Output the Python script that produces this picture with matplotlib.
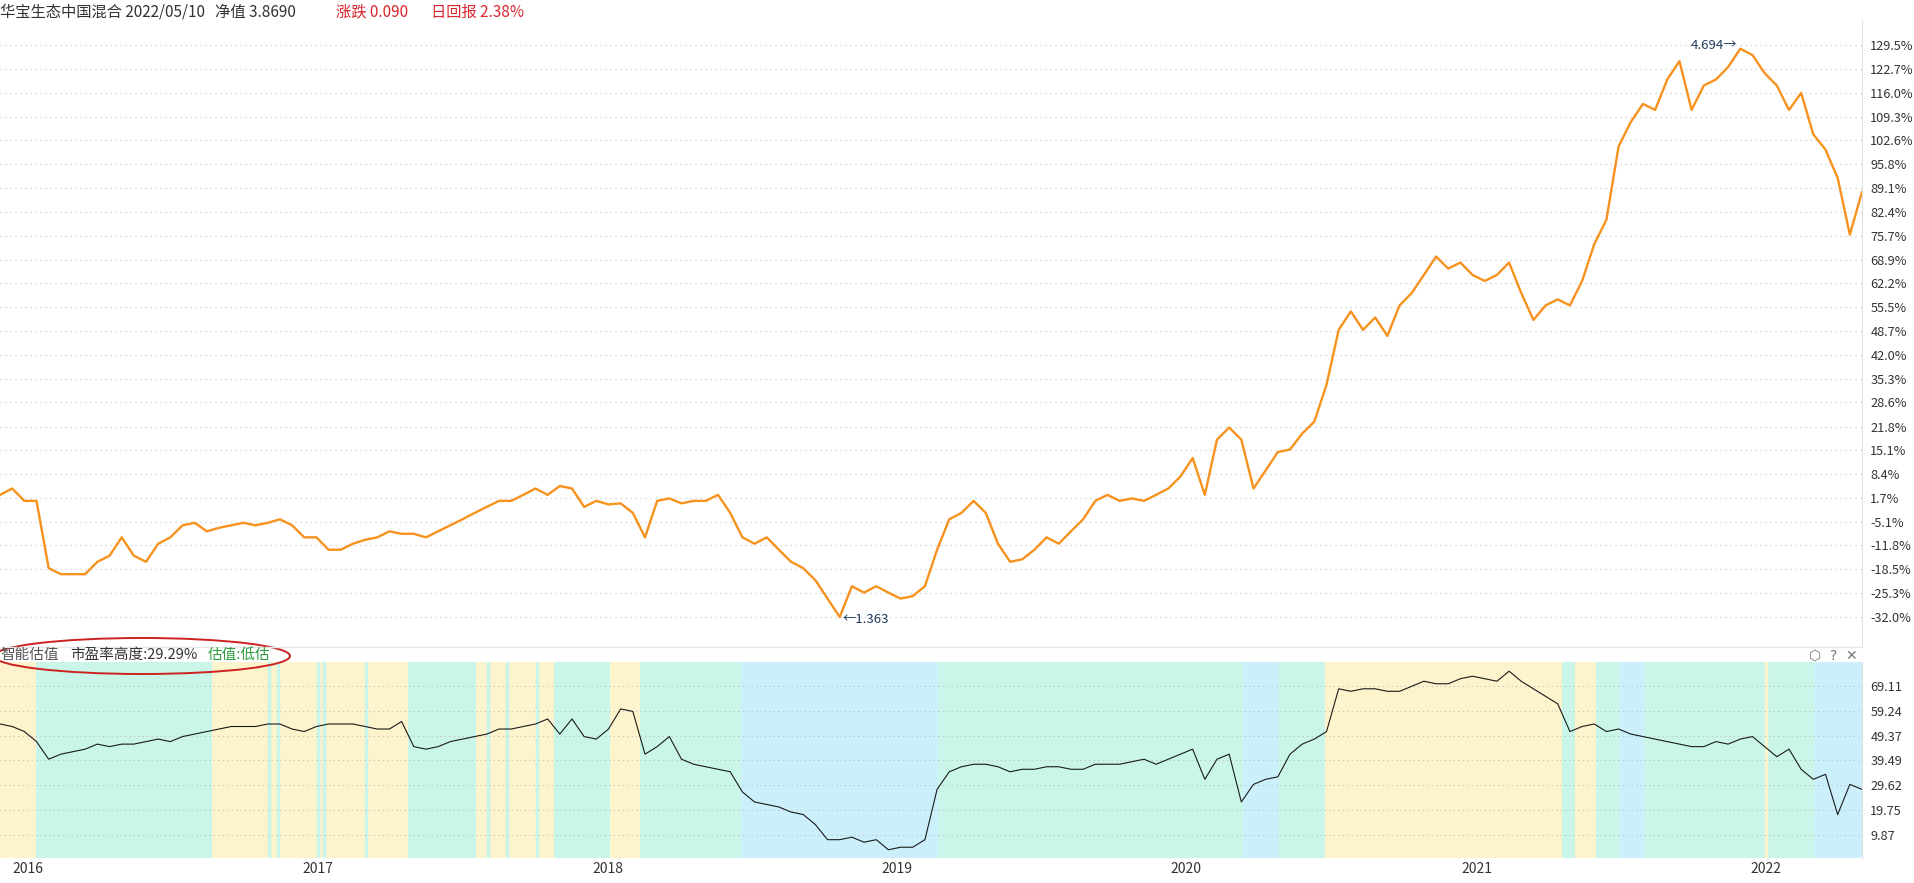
import matplotlib
matplotlib.use("Agg")
import matplotlib.pyplot as plt
from matplotlib.patches import Ellipse
import pandas as pd
import numpy as np

plt.rcParams['font.family'] = ['Noto Sans CJK SC', 'DejaVu Sans']

start_date = "2015-11-27"
end_date = "2022-05-02"

nav_pct = [2.5, 4.3, 0.8, 0.8, -18.2, -19.9, -19.9, -19.9, -16.4, -14.7,
           -9.5, -14.7, -16.4, -11.3, -9.5, -6.1, -5.4, -7.8, -6.8, -6.1,
           -5.4, -6.1, -5.4, -4.4, -6.1, -9.5, -9.5, -13.0, -13.0, -11.3,
           -10.2, -9.5, -7.8, -8.5, -8.5, -9.5, -7.8, -6.1, -4.4, -2.6,
           -0.9, 0.8, 0.8, 2.5, 4.3, 2.5, 5.0, 4.3, -0.9, 0.8,
           -0.2, 0.1, -2.6, -9.5, 0.8, 1.5, 0.1, 0.8, 0.8, 2.5,
           -2.6, -9.5, -11.3, -9.5, -13.0, -16.4, -18.2, -21.6, -26.8, -32.0,
           -23.3, -25.1, -23.3, -25.1, -26.8, -26.1, -23.3, -13.0, -4.4, -2.6,
           0.8, -2.6, -11.3, -16.4, -15.7, -13.0, -9.5, -11.3, -7.8, -4.4,
           0.8, 2.5, 0.8, 1.5, 0.8, 2.5, 4.3, 7.7, 12.9, 2.5,
           18.1, 21.5, 18.1, 4.3, 9.4, 14.6, 15.3, 19.8, 23.2, 33.6,
           49.1, 54.3, 49.1, 52.6, 47.4, 56.0, 59.5, 64.6, 69.8, 66.4,
           68.1, 64.6, 62.9, 64.6, 68.1, 59.5, 51.9, 56.0, 57.7, 56.0,
           62.9, 73.3, 80.2, 100.9, 107.8, 112.9, 111.2, 119.8, 125.0, 111.2,
           118.1, 119.8, 123.3, 128.5, 126.7, 121.6, 118.1, 111.2, 116.0, 104.3,
           100.0, 92.0, 76.0, 88.0]

pe_pct = [54, 53, 51, 47, 40, 42, 43, 44, 46, 45,
          46, 46, 47, 48, 47, 49, 50, 51, 52, 53,
          53, 53, 54, 54, 52, 51, 53, 54, 54, 54,
          53, 52, 52, 55, 45, 44, 45, 47, 48, 49,
          50, 52, 52, 53, 54, 56, 50, 56, 49, 48,
          52, 60, 59, 42, 45, 49, 40, 38, 37, 36,
          35, 27, 23, 22, 21, 19, 18, 14, 8, 8,
          9, 7, 8, 4, 5, 5, 8, 28, 35, 37,
          38, 38, 37, 35, 36, 36, 37, 37, 36, 36,
          38, 38, 38, 39, 40, 38, 40, 42, 44, 32,
          40, 42, 23, 30, 32, 33, 42, 46, 48, 51,
          68, 67, 68, 68, 67, 67, 69, 71, 70, 70,
          72, 73, 72, 71, 75, 71, 68, 65, 62, 51,
          53, 54, 51, 52, 50, 49, 48, 47, 46, 45,
          45, 47, 46, 48, 49, 45, 41, 44, 36, 32,
          34, 18, 30, 28]

band_edges = ["2015-11-27", "2016-01-12", "2016-08-20", "2017-04-25", "2017-07-19",
              "2017-10-26", "2018-01-04", "2018-02-11", "2018-06-19", "2019-02-22",
              "2020-03-12", "2020-04-27", "2020-06-24", "2021-04-19", "2021-05-05",
              "2021-05-31", "2021-07-01", "2021-07-31", "2022-03-03", "2022-05-02"]
band_states = ["high", "mid", "high", "mid", "high", "mid", "high", "mid", "low",
               "mid", "low", "mid", "high", "mid", "high", "mid", "low", "mid", "low"]
stripe_dates = ["2016-10-31", "2016-11-12", "2017-01-01", "2017-01-08", "2017-03-03",
                "2017-08-04", "2017-08-27", "2017-10-04", "2022-01-01"]
stripe_states = ["mid", "mid", "mid", "mid", "mid", "mid", "mid", "mid", "high"]

top_ticks = [129.5, 122.7, 116.0, 109.3, 102.6, 95.8, 89.1, 82.4, 75.7, 68.9, 62.2,
             55.5, 48.7, 42.0, 35.3, 28.6, 21.8, 15.1, 8.4, 1.7, -5.1, -11.8, -18.5,
             -25.3, -32.0]
bot_ticks = [69.11, 59.24, 49.37, 39.49, 29.62, 19.75, 9.87]
year_labels = ["2016", "2017", "2018", "2019", "2020", "2021", "2022"]

colors = {"high": "#fdf3cd", "mid": "#c9f6e9", "low": "#cbf0fb"}

dates = pd.date_range(start_date, end_date, periods=len(nav_pct))
dates_pe = pd.date_range(start_date, end_date, periods=len(pe_pct))

fig = plt.figure(figsize=(19.15, 8.83), dpi=100)
W, H = 1915, 883
ax = fig.add_axes([0, 1 - 645 / H, 1862 / W, 625 / H])
ax2 = fig.add_axes([0, 1 - 858 / H, 1862 / W, 196 / H], sharex=ax)

ax.plot(dates, nav_pct, color="#f7921e", lw=1.7)
ax.set_ylim(-39.9, 136.6)
ax.set_xlim(pd.Timestamp(start_date), pd.Timestamp(end_date))
ax.set_yticks(top_ticks)
ax.set_yticklabels([f"{t:.1f}%" for t in top_ticks])
ax.yaxis.tick_right()
ax.tick_params(axis='y', length=0, labelsize=9.2, colors="#333333", pad=6)
ax.tick_params(axis='x', length=0, labelbottom=False)
ax.grid(axis='y', color="#cfcfcf", linestyle=(0, (1, 3)), lw=0.9)
for s in ["top", "left", "bottom"]:
    ax.spines[s].set_visible(False)
ax.spines["right"].set_color("#e0e0e0")

imax = int(np.argmax(nav_pct)); imin = int(np.argmin(nav_pct))
ax.annotate("4.694\u2192", (dates[imax], nav_pct[imax]), xytext=(-2, 2),
            textcoords="offset points", ha="right", va="center", fontsize=9.5, color="#1f3a5a")
ax.annotate("\u21901.363", (dates[imin], nav_pct[imin]), xytext=(2, -2),
            textcoords="offset points", ha="left", va="center", fontsize=9.5, color="#1f3a5a")

for i, st in enumerate(band_states):
    ax2.axvspan(pd.Timestamp(band_edges[i]), pd.Timestamp(band_edges[i + 1]),
                color=colors[st], lw=0, zorder=0)
for d, st in zip(stripe_dates, stripe_states):
    ax2.axvline(pd.Timestamp(d), color=colors[st], lw=2.5, zorder=0.5)
ax2.plot(dates_pe, pe_pct, color="#1a1a1a", lw=0.8)
ax2.set_ylim(0.72, 78.65)
ax2.set_yticks(bot_ticks)
ax2.set_yticklabels([f"{t:.2f}" for t in bot_ticks])
ax2.yaxis.tick_right()
ax2.tick_params(axis='y', length=0, labelsize=9.2, colors="#333333", pad=6)
ax2.grid(axis='y', color="#bfbfbf", linestyle=(0, (1, 3)), lw=0.8)
ax2.set_xticks([pd.Timestamp(f"{y}-01-01") for y in year_labels])
ax2.set_xticklabels(year_labels)
ax2.tick_params(axis='x', length=0, labelsize=10, colors="#333333", pad=3)
for s in ["top", "left", "bottom"]:
    ax2.spines[s].set_visible(False)
ax2.spines["right"].set_color("#e0e0e0")

fig.add_artist(plt.Line2D([0, 1862 / W], [1 - 647 / H] * 2, color="#e6e6e6", lw=1))

fs = 11
fig.text(0.0, 1 - 12 / H, "华宝生态中国混合 2022/05/10   净值 3.8690", fontsize=fs,
         color="#333333", va="center", ha="left")
fig.text(336 / W, 1 - 12 / H, "涨跌 0.090", fontsize=fs, color="#d9262c", va="center")
fig.text(431 / W, 1 - 12 / H, "日回报 2.38%", fontsize=fs, color="#d9262c", va="center")

fs2 = 10.5
fig.text(0.0, 1 - 655 / H, "智能估值", fontsize=fs2, color="#555555", va="center")
fig.text(70 / W, 1 - 655 / H, "市盈率高度:29.29%", fontsize=fs2, color="#333333", va="center")
fig.text(208 / W, 1 - 655 / H, "估值:低估", fontsize=fs2, color="#2a9d3a", va="center")
fig.add_artist(Ellipse((142 / W, 1 - 656 / H), 296 / W, 36 / H, fill=False,
                       edgecolor="#cc2222", lw=1.4, transform=fig.transFigure))
for x, sym in zip([1815, 1834, 1851], ["\u2b21", "?", "\u2715"]):
    fig.text(x / W, 1 - 656 / H, sym, fontsize=10, color="#777777",
             va="center", ha="center", family=['DejaVu Sans'])

fig.savefig("out.png", dpi=100)
